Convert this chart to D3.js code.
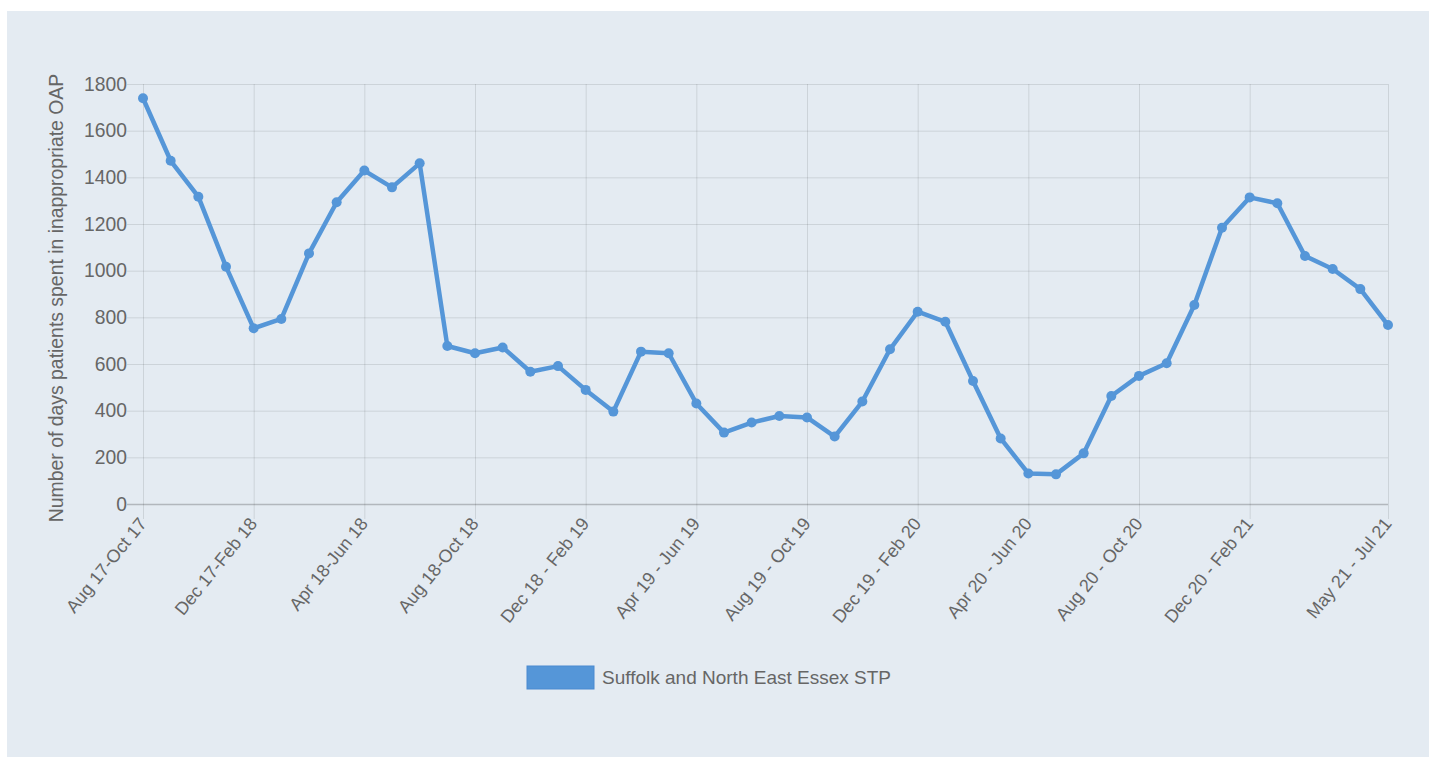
<!DOCTYPE html>
<html>
<head>
<meta charset="utf-8">
<script src="https://cdn.jsdelivr.net/npm/d3@7"></script>
<style>
  body { margin: 0; background: #fff; }
  svg { display: block; font-family: "Liberation Sans", Arial, sans-serif; }
</style>
</head>
<body>
<svg id="chart"></svg>
<script>
var labels = [
  "Aug 17-Oct 17", "Sep 17-Nov 17", "Oct 17-Dec 17", "Nov 17-Jan 18",
  "Dec 17-Feb 18", "Jan 18-Mar 18", "Feb 18-Apr 18", "Mar 18-May 18",
  "Apr 18-Jun 18", "May 18-Jul 18", "Jun 18-Aug 18", "Jul 18-Sep 18",
  "Aug 18-Oct 18", "Sep 18-Nov 18", "Oct 18-Dec 18", "Nov 18-Jan 19",
  "Dec 18 - Feb 19", "Jan 19 - Mar 19", "Feb 19 - Apr 19", "Mar 19 - May 19",
  "Apr 19 - Jun 19", "May 19 - Jul 19", "Jun 19 - Aug 19", "Jul 19 - Sep 19",
  "Aug 19 - Oct 19", "Sep 19 - Nov 19", "Oct 19 - Dec 19", "Nov 19 - Jan 20",
  "Dec 19 - Feb 20", "Jan 20 - Mar 20", "Feb 20 - Apr 20", "Mar 20 - May 20",
  "Apr 20 - Jun 20", "May 20 - Jul 20", "Jun 20 - Aug 20", "Jul 20 - Sep 20",
  "Aug 20 - Oct 20", "Sep 20 - Nov 20", "Oct 20 - Dec 20", "Nov 20 - Jan 21",
  "Dec 20 - Feb 21", "Jan 21 - Mar 21", "Feb 21 - Apr 21", "Mar 21 - May 21",
  "Apr 21 - Jun 21", "May 21 - Jul 21"
];

var values = [
  1739, 1471, 1317, 1017, 753, 793, 1074, 1293, 1429, 1357,
  1460, 677, 646, 671, 567, 591, 489, 396, 653, 646,
  431, 306, 349, 377, 371, 289, 439, 663, 824, 781,
  527, 281, 131, 127, 217, 463, 549, 603, 853, 1184,
  1314, 1289, 1063, 1007, 921, 767
];

// labels chart.js kept after auto skip
var shownTicks = [0, 4, 8, 12, 16, 20, 24, 28, 32, 36, 40, 45];
var yTicks = [0, 200, 400, 600, 800, 1000, 1200, 1400, 1600, 1800];

var seriesName = "Suffolk and North East Essex STP";
var yTitle = "Number of days patients spent in inappropriate OAP";

var W = 1435, H = 758;
var plotL = 143, plotR = 1388, plotT = 84, plotB = 504;
var lineColor = "#5596d8";
var textColor = "#666";
var gridColor = "rgba(0,0,0,0.1)";

var svg = d3.select("#chart").attr("width", W).attr("height", H);

svg.append("rect")
  .attr("x", 7).attr("y", 11)
  .attr("width", 1422).attr("height", 746)
  .attr("fill", "#e4ebf2");

var x = d3.scalePoint().domain(labels).range([plotL, plotR]);
var y = d3.scaleLinear().domain([0, 1800]).range([plotB, plotT]);

// y axis with gridlines
var yAxis = svg.append("g")
  .attr("transform", `translate(${plotL},0)`)
  .call(d3.axisLeft(y).tickValues(yTicks).tickFormat(d3.format("d")).tickSize(-(plotR - plotL)));
yAxis.select(".domain").remove();
yAxis.selectAll(".tick line")
  .attr("x1", -16)
  .attr("stroke", d => d === 0 ? "rgba(0,0,0,0.22)" : gridColor)
  .attr("stroke-width", d => d === 0 ? 1.5 : 1);
yAxis.selectAll(".tick text")
  .attr("x", -16)
  .style("font-size", "19.3px")
  .style("font-family", "Liberation Sans, Arial, sans-serif")
  .attr("fill", textColor);

// x axis with gridlines only at shown labels
var xAxis = svg.append("g")
  .attr("transform", `translate(0,${plotB})`)
  .call(d3.axisBottom(x).tickValues(shownTicks.map(i => labels[i])).tickSize(15));
xAxis.select(".domain").remove();
xAxis.selectAll(".tick line")
  .attr("y1", -(plotB - plotT))
  .attr("stroke", gridColor);
xAxis.selectAll(".tick text")
  .attr("text-anchor", "end")
  .attr("dy", null)
  .attr("y", 0)
  .attr("transform", "translate(4,20) rotate(-51)")
  .style("font-size", "18px")
  .style("font-family", "Liberation Sans, Arial, sans-serif")
  .attr("fill", textColor);

// y axis title
svg.append("text")
  .attr("transform", `translate(63,298) rotate(-90)`)
  .attr("text-anchor", "middle")
  .style("font-size", "19.4px")
  .attr("fill", textColor)
  .text(yTitle);

// line and points
var line = d3.line()
  .x((d, i) => x(labels[i]))
  .y(d => y(d));

svg.append("path")
  .datum(values)
  .attr("d", line)
  .attr("fill", "none")
  .attr("stroke", lineColor)
  .attr("stroke-width", 4.5)
  .attr("stroke-linejoin", "round");

svg.selectAll(".pt")
  .data(values)
  .join("circle")
  .attr("class", "pt")
  .attr("cx", (d, i) => x(labels[i]))
  .attr("cy", d => y(d))
  .attr("r", 5)
  .attr("fill", lineColor);

// legend
var legend = svg.append("g").attr("transform", "translate(527,666)");
legend.append("rect")
  .attr("width", 67).attr("height", 23)
  .attr("fill", lineColor)
  .attr("stroke", "#4a8ad0")
  .attr("stroke-width", 1);
legend.append("text")
  .attr("x", 75).attr("y", 18)
  .style("font-size", "19px")
  .attr("fill", textColor)
  .text(seriesName);
</script>
</body>
</html>
